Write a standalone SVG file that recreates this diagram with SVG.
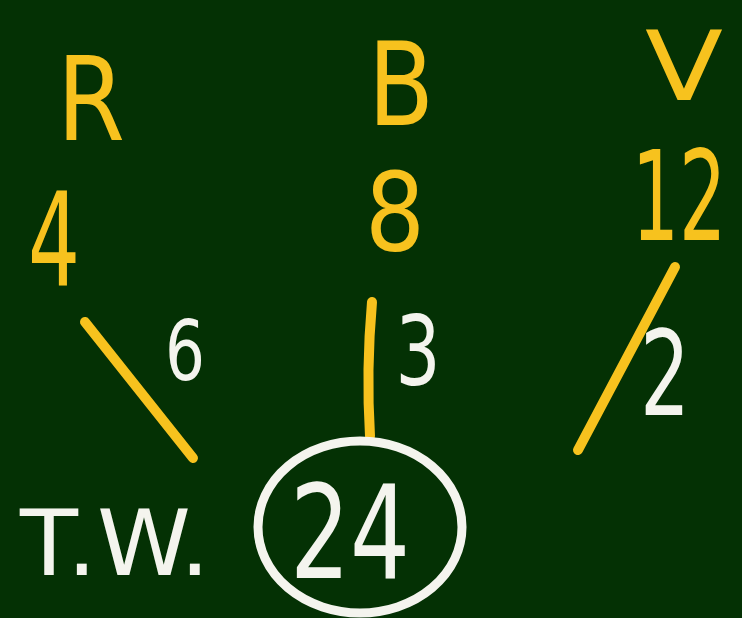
<svg xmlns="http://www.w3.org/2000/svg" width="742" height="618" viewBox="0 0 742 618">
<style>
text{font-family:"DejaVu Sans","Liberation Sans",sans-serif;text-anchor:middle}
.y{fill:#f7c21e}
.w{fill:#f4f4ee}
.ln{stroke:#f7c21e;stroke-width:10;stroke-linecap:round;fill:none}
</style>
<rect x="0" y="0" width="742" height="618" fill="#043104"/>
<g id="heads">
<text class="y" x="91" y="140" font-size="115" textLength="68" lengthAdjust="spacingAndGlyphs">R</text>
<text class="y" x="401" y="125" font-size="115" textLength="66" lengthAdjust="spacingAndGlyphs">B</text>
<text class="y" x="684" y="100" font-size="96" textLength="78" lengthAdjust="spacingAndGlyphs">V</text>
</g>
<g id="values">
<text class="y" x="54" y="285" font-size="130" textLength="52" lengthAdjust="spacingAndGlyphs">4</text>
<text class="y" x="395" y="250" font-size="108" textLength="60" lengthAdjust="spacingAndGlyphs">8</text>
<text class="y" transform="translate(679,240) scale(0.6,1)" x="0" y="0" font-size="124">12</text>
</g>
<g id="connectors">
<line class="ln" x1="85" y1="322" x2="193" y2="458"/>
<path class="ln" d="M372,302 Q366,370 370,436"/>
<line class="ln" x1="675" y1="267" x2="578" y2="450"/>
</g>
<g id="ratios">
<text class="w" x="185" y="380" font-size="84" textLength="40" lengthAdjust="spacingAndGlyphs">6</text>
<text class="w" x="418" y="385" font-size="97" textLength="45" lengthAdjust="spacingAndGlyphs">3</text>
<text class="w" x="665" y="415" font-size="118" textLength="50" lengthAdjust="spacingAndGlyphs">2</text>
</g>
<g id="total">
<text class="w" x="115" y="575" font-size="90" textLength="190" lengthAdjust="spacingAndGlyphs">T.W.</text>
<ellipse cx="360" cy="527" rx="102" ry="86" fill="none" stroke="#f4f4ee" stroke-width="9"/>
<text class="w" x="350" y="578" font-size="130" textLength="120" lengthAdjust="spacingAndGlyphs">24</text>
</g>
</svg>
